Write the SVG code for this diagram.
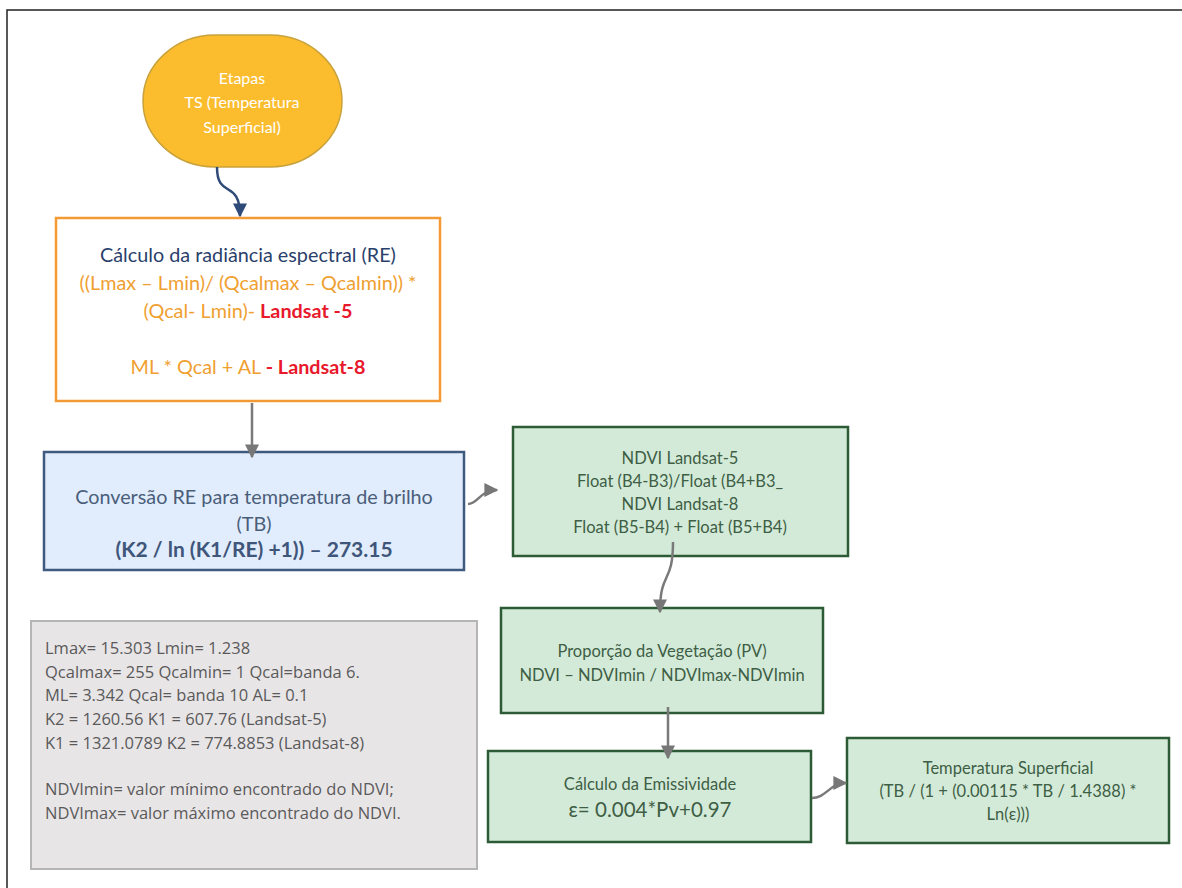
<svg xmlns="http://www.w3.org/2000/svg" width="1182" height="888" viewBox="0 0 1182 888">
<style>
text{font-family:Lato,"Open Sans","Liberation Sans",sans-serif;text-anchor:middle}
.green rect{fill:#d3ead8;stroke:#2c5b36;stroke-width:2.5}
.green text{fill:#3e5e45;font-size:16.5px}
.conn{fill:none;stroke:#7a7a7a;stroke-width:2.5}
.note{font-family:"Open Sans","Noto Sans","Liberation Sans",sans-serif;text-anchor:start;fill:#5a5a5a;font-size:16.5px}
</style>
<defs>
<marker id="ag" viewBox="0 0 10 10" refX="9" refY="5" markerWidth="5.6" markerHeight="5.6" orient="auto" markerUnits="strokeWidth">
<path d="M0,0 L10,5 L0,10 z" fill="#777"/>
</marker>
<marker id="ab" viewBox="0 0 10 10" refX="9" refY="5" markerWidth="5.6" markerHeight="5.6" orient="auto" markerUnits="strokeWidth">
<path d="M0,0 L10,5 L0,10 z" fill="#2e4a78"/>
</marker>
</defs>
<rect width="1182" height="888" fill="#ffffff"/>
<path d="M7,888 V10 H1182" fill="none" stroke="#222" stroke-width="1.5"/>

<g id="start">
<rect x="143" y="35" width="199" height="132" rx="72" ry="66" fill="#fbbd2e" stroke="#c9a23b" stroke-width="1.5"/>
<text x="242" y="84" fill="#fff" font-size="16">Etapas</text>
<text x="242" y="108" fill="#fff" font-size="16">TS (Temperatura</text>
<text x="242" y="133" fill="#fff" font-size="16">Superficial)</text>
</g>

<g id="radiancia">
<rect x="56" y="218" width="384" height="183" fill="#fff" stroke="#f39a35" stroke-width="2.5"/>
<text x="248" y="262" fill="#2a3f6b" font-size="19.8">Cálculo da radiância espectral (RE)</text>
<text x="248" y="290" fill="#f0a030" font-size="19.8">((Lmax – Lmin)/ (Qcalmax – Qcalmin)) *</text>
<text x="248" y="318" fill="#f0a030" font-size="19.8">(Qcal- Lmin)- <tspan fill="#e8192c" font-weight="bold">Landsat -5</tspan></text>
<text x="248" y="374" fill="#f0a030" font-size="19.8">ML * Qcal + AL <tspan fill="#e8192c" font-weight="bold">- Landsat-8</tspan></text>
</g>

<g id="conversao">
<rect x="44" y="452" width="420" height="118" fill="#e1edfc" stroke="#3f5a7e" stroke-width="2.5"/>
<text x="254" y="504" fill="#4a5e7a" font-size="19.8">Conversão RE para temperatura de brilho</text>
<text x="254" y="531" fill="#4a5e7a" font-size="19.8">(TB)</text>
<text x="254" y="557" fill="#3f557a" font-size="21" font-weight="bold">(K2 / ln (K1/RE) +1)) – 273.15</text>
</g>

<g id="ndvi" class="green">
<rect x="513" y="427" width="335" height="129"/>
<text x="680" y="464">NDVI Landsat-5</text>
<text x="680" y="487">Float (B4-B3)/Float (B4+B3_</text>
<text x="680" y="510">NDVI Landsat-8</text>
<text x="680" y="533">Float (B5-B4) + Float (B5+B4)</text>
</g>

<g id="proporcao" class="green">
<rect x="501" y="608" width="322" height="105"/>
<text x="662" y="657">Proporção da Vegetação (PV)</text>
<text x="662" y="681">NDVI – NDVImin / NDVImax-NDVImin</text>
</g>

<g id="emissividade" class="green">
<rect x="488" y="751" width="323" height="91"/>
<text x="650" y="790">Cálculo da Emissividade</text>
<text x="650" y="817" style="font-size:20.5px">ε= 0.004*Pv+0.97</text>
</g>

<g id="temperatura" class="green">
<rect x="847" y="738" width="322" height="105"/>
<text x="1008" y="774">Temperatura  Superficial</text>
<text x="1008" y="797">(TB / (1 + (0.00115 * TB / 1.4388) *</text>
<text x="1008" y="820">Ln(ε)))</text>
</g>

<g id="nota">
<rect x="31" y="621" width="446" height="248" fill="#e8e5e7" stroke="#b5b5b5" stroke-width="2"/>
<text class="note" x="45" y="654">Lmax= 15.303 Lmin= 1.238</text>
<text class="note" x="45" y="678">Qcalmax= 255 Qcalmin= 1 Qcal=banda 6.</text>
<text class="note" x="45" y="701">ML= 3.342 Qcal= banda 10 AL= 0.1</text>
<text class="note" x="45" y="725">K2 = 1260.56 K1 = 607.76 (Landsat-5)</text>
<text class="note" x="45" y="749">K1 = 1321.0789 K2 = 774.8853 (Landsat-8)</text>
<text class="note" x="45" y="795">NDVImin= valor mínimo encontrado do NDVI;</text>
<text class="note" x="45" y="819">NDVImax= valor máximo encontrado do NDVI.</text>
</g>

<g id="connectors">
<path d="M217,167 C217,200 240,178 240,216" fill="none" stroke="#2e4a78" stroke-width="2.5" marker-end="url(#ab)"/>
<path class="conn" d="M252,403 V457" marker-end="url(#ag)"/>
<path class="conn" d="M468,504 C478,504 480,490 497,490" marker-end="url(#ag)"/>
<path class="conn" d="M673,542 C673,585 660,570 660,612" marker-end="url(#ag)"/>
<path class="conn" d="M668,707 V758" marker-end="url(#ag)"/>
<path class="conn" d="M812,798 C826,798 830,783 846,783" marker-end="url(#ag)"/>
</g>
</svg>
